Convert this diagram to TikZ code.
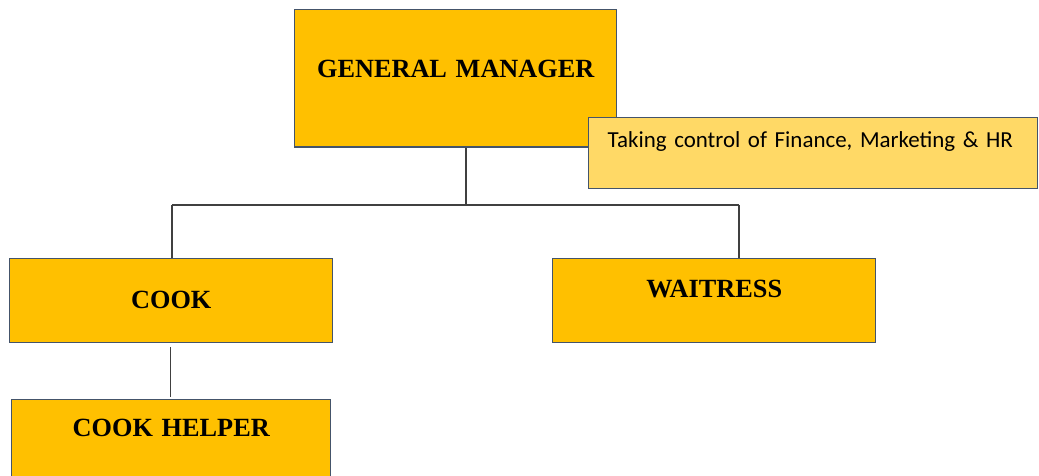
\documentclass[tikz,border=0pt]{standalone}
\usepackage{fontspec}
\setmainfont{Liberation Serif}
\newfontfamily\notefont{Carlito}
\definecolor{amber}{HTML}{FFC000}
\definecolor{paleamber}{HTML}{FFD966}
\definecolor{boxline}{HTML}{44546A}
\definecolor{wire}{HTML}{404040}

\begin{document}
\begin{tikzpicture}[x=0.75pt, y=-0.75pt, line width=1.1pt,
    post/.style = {draw=boxline, fill=amber, inner sep=0pt, anchor=north west, align=center, font=\bfseries\fontsize{19.7}{24}\selectfont},
    remark/.style = {draw=boxline, fill=paleamber, inner sep=0pt, anchor=north west, align=left, font=\notefont\fontsize{17.2}{20}\selectfont},
    wire/.style = {draw=wire}]
    \clip (0,0) rectangle (1039,475);
    \fill[white] (0,0) rectangle (1039,475);
    \node[post, text width=241.5pt, text height=51pt, text depth=52pt] (gm) at (294,9) {GENERAL MANAGER};
    \node[remark, text width=308.25pt, text height=22.5pt, text depth=30.75pt, inner xsep=14.25pt] (note) at (588,117) {Taking control of Finance, Marketing \& HR};
    \node[post, text width=242.25pt, text height=37.5pt, text depth=25.5pt] (cook) at (9,258) {COOK};
    \node[post, text width=242.25pt, text height=29.25pt, text depth=33.75pt] (waitress) at (552,258) {WAITRESS};
    \node[post, text width=239.25pt, text height=27.75pt, text depth=45pt] (helper) at (11,399) {COOK HELPER};
    \coordinate (split) at (466,205);
    \coordinate (lcorner) at (172,205);
    \coordinate (rcorner) at (739,205);
    \draw[wire] (gm.south -| split) -- (split);
    \draw[wire] (lcorner) -- (rcorner);
    \draw[wire] (lcorner) -- (lcorner |- cook.north);
    \draw[wire] (rcorner) -- (rcorner |- waitress.north);
    \draw[wire, shorten <=3pt, shorten >=1.5pt] ([xshift=-0.5pt]cook.south) -- ([xshift=-0.5pt]helper.north);
\end{tikzpicture}
\end{document}
